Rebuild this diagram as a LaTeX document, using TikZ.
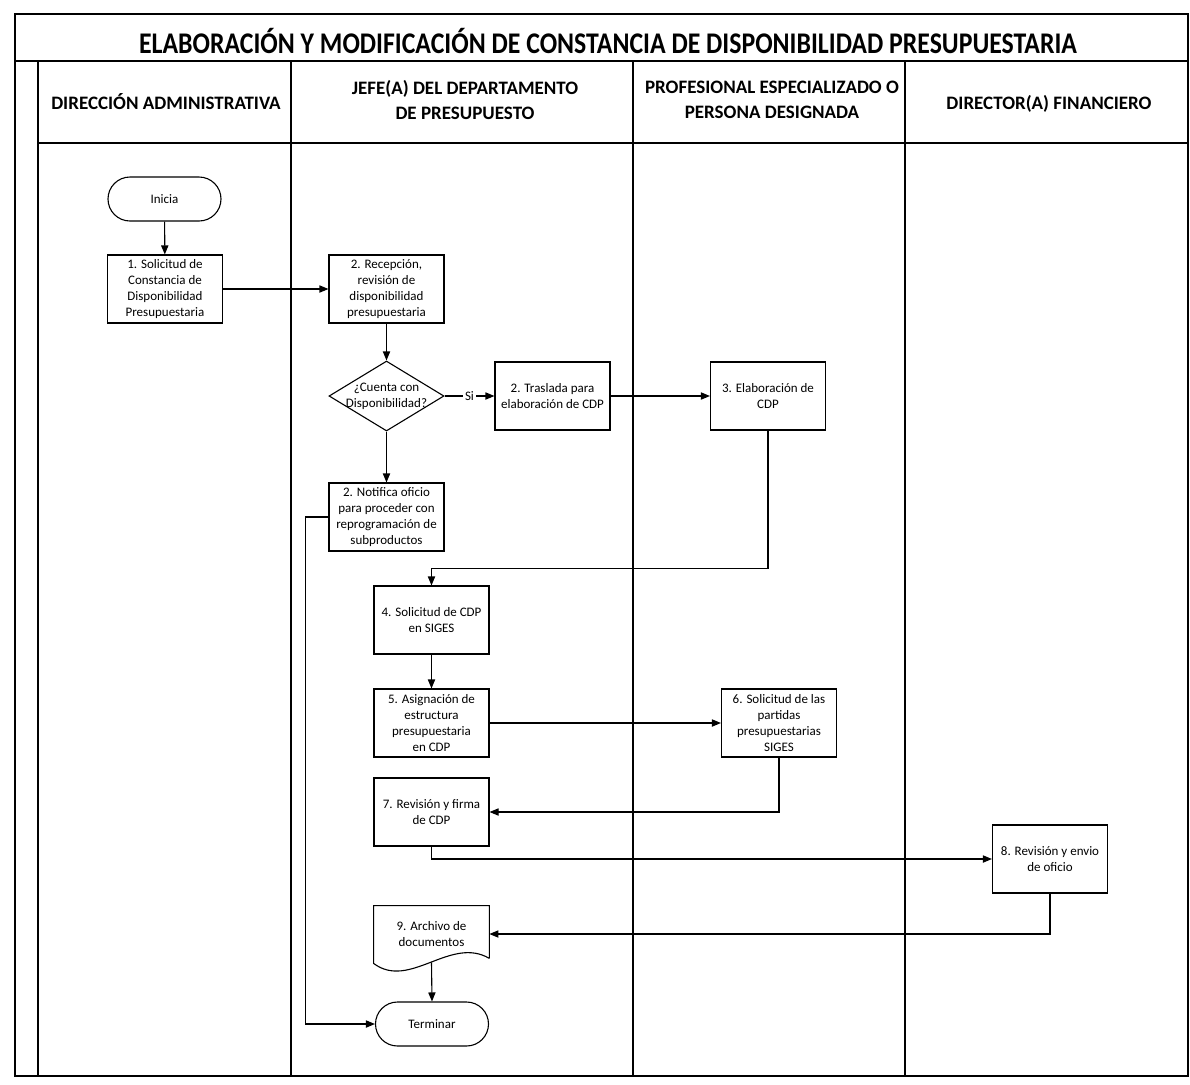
\documentclass[tikz,border=0pt]{standalone}
\usepackage{fontspec}
\setmainfont{Carlito}
\usetikzlibrary{arrows.meta,shapes.geometric,calc}
\begin{document}
\begin{tikzpicture}[x=0.5pt,y=-0.5pt,
  nf/.style={font=\fontsize{6.5}{8}\selectfont},
  box/.style={nf,draw,line width=0.55pt,minimum width=57.5pt,minimum height=34pt,align=center,inner sep=1pt},
  termbox/.style={nf,draw,line width=0.55pt,rounded corners=11pt,minimum width=56.5pt,minimum height=22pt},
  arr/.style={line width=0.55pt,-{Triangle[length=4.5pt,width=3.6pt]}},
  ln/.style={line width=0.55pt},
  lane/.style={line width=0.7pt},
  hdr/.style={font=\fontsize{9.5}{12.5}\selectfont\bfseries,align=center}
]
\useasboundingbox (0,0) rectangle (1190,1084);
% frame and lanes
\draw[line width=0.9pt] (15,14) rectangle (1188,1076);
\draw[lane] (15,61) -- (1188,61);
\draw[lane] (38,61) -- (38,1076);
\draw[lane] (38,143) -- (1188,143);
\draw[lane] (291,61) -- (291,1076);
\draw[lane] (633,61) -- (633,1076);
\draw[lane] (905,61) -- (905,1076);
% title and headers
\node[font=\fontsize{15}{17}\selectfont\bfseries] (title) at (608,41) {\scalebox{0.86}[1]{ELABORACIÓN Y MODIFICACIÓN DE CONSTANCIA DE DISPONIBILIDAD PRESUPUESTARIA}};
\node[hdr] (h1) at (166,102) {DIRECCIÓN ADMINISTRATIVA};
\node[hdr] (h2) at (465,100) {JEFE(A) DEL DEPARTAMENTO\\DE PRESUPUESTO};
\node[hdr] (h3) at (772,100) {PROFESIONAL ESPECIALIZADO O\\PERSONA DESIGNADA};
\node[hdr] (h4) at (1049,104) {DIRECTOR(A) FINANCIERO};
% nodes
\node[termbox] (ini) at (164.5,199) {Inicia};
\node[box] (n1) at (165,289) {1. Solicitud de\\Constancia de\\Disponibilidad\\Presupuestaria};
\node[box] (n2) at (386.5,289) {2. Recepción,\\revisión de\\disponibilidad\\presupuestaria};
\node[diamond,draw,line width=0.55pt,minimum width=57.5pt,minimum height=35pt,inner sep=0pt] (dia) at (386.5,396) {};
\node[nf,align=center,inner sep=0pt] (diat) at (dia) {¿Cuenta con\\Disponibilidad?};
\node[box] (n2b) at (552.5,396) {2. Traslada para\\elaboración de CDP};
\node[box] (n3) at (768,396) {3. Elaboración de\\CDP};
\node[box] (n2c) at (386.5,517) {2. Notifica oficio\\para proceder con\\reprogramación de\\subproductos};
\node[box] (n4) at (431.5,620) {4. Solicitud de CDP\\en SIGES};
\node[box] (n5) at (431.5,723) {5. Asignación de\\estructura\\presupuestaria\\en CDP};
\node[box] (n6) at (779,723) {6. Solicitud de las\\partidas\\presupuestarias\\SIGES};
\node[box] (n7) at (431.5,812) {7. Revisión y firma\\de CDP};
\node[box] (n8) at (1050,859) {8. Revisión y envio\\de oficio};
\node[nf,align=center,minimum width=57.5pt,minimum height=28pt,inner sep=1pt] (n9) at (431.5,934) {9. Archivo de\\documentos};
\draw[ln] ($(n9.south east)+(0,-4)$) -- (n9.north east) -- (n9.north west) -- ($(n9.south west)+(0,1)$)
  .. controls ($(n9.south west)+(36,28)$) and ($(n9.south east)+(-39,-27)$) .. ($(n9.south east)+(0,-4)$);
\node[termbox] (fin) at (432,1024) {Terminar};
% connectors
\draw[arr] (ini) -- (n1);
\draw[arr] (n1) -- (n2);
\draw[arr] (n2) -- (dia);
\draw[arr] (dia) -- node[nf,fill=white,inner sep=1pt] (si) {Si} (n2b);
\draw[arr] (n2b) -- (n3);
\draw[arr] (dia) -- (n2c);
\draw[arr] (n2c.west) -- ++(-23,0) |- (fin.west);
\draw[arr] (n3.south) -- ++(0,138) -| (n4.north);
\draw[arr] (n4) -- (n5);
\draw[arr] (n5) -- (n6);
\draw[arr] (n6.south) |- (n7.east);
\draw[arr] (n7.south) |- (n8.west);
\draw[arr] (n8.south) |- (n9.east);
\draw[arr] (n9.south) -- (fin.north);
\end{tikzpicture}
\end{document}
